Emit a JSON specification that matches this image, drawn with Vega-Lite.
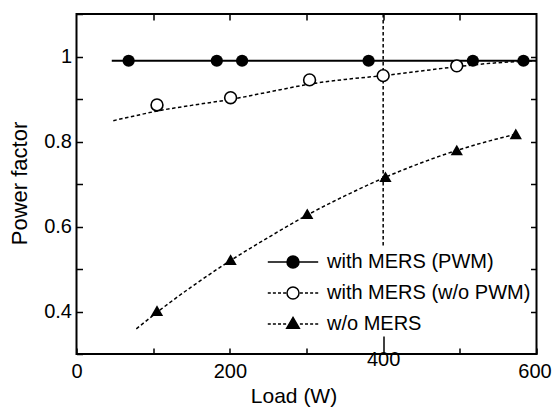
{
  "$schema": "https://vega.github.io/schema/vega-lite/v6.json",
  "width": 460,
  "height": 340,
  "autosize": "none",
  "padding": {"left": 76.5, "top": 14, "right": 15.5, "bottom": 54},
  "background": "white",
  "config": {
    "view": {"stroke": "black", "strokeWidth": 2},
    "font": "Liberation Sans",
    "axis": {"grid": false, "domain": false, "tickColor": "black", "tickWidth": 1.5, "labelColor": "black", "titleColor": "black", "labelFont": "Liberation Sans", "titleFont": "Liberation Sans", "titleFontWeight": "normal"}
  },
  "datasets": {
    "points": [
      {"series": "with MERS (PWM)", "load": 68, "pf": 0.99},
      {"series": "with MERS (PWM)", "load": 183, "pf": 0.99},
      {"series": "with MERS (PWM)", "load": 216, "pf": 0.99},
      {"series": "with MERS (PWM)", "load": 381, "pf": 0.99},
      {"series": "with MERS (PWM)", "load": 517, "pf": 0.99},
      {"series": "with MERS (PWM)", "load": 583, "pf": 0.99},
      {"series": "with MERS (w/o PWM)", "load": 105, "pf": 0.886},
      {"series": "with MERS (w/o PWM)", "load": 201, "pf": 0.903},
      {"series": "with MERS (w/o PWM)", "load": 304, "pf": 0.945},
      {"series": "with MERS (w/o PWM)", "load": 400, "pf": 0.955},
      {"series": "with MERS (w/o PWM)", "load": 496, "pf": 0.978},
      {"series": "w/o MERS", "load": 105, "pf": 0.402},
      {"series": "w/o MERS", "load": 201, "pf": 0.522},
      {"series": "w/o MERS", "load": 301, "pf": 0.63},
      {"series": "w/o MERS", "load": 403, "pf": 0.717},
      {"series": "w/o MERS", "load": 496, "pf": 0.78},
      {"series": "w/o MERS", "load": 573, "pf": 0.818}
    ],
    "fits": [
      {"series": "with MERS (PWM)", "load": 46, "pf": 0.99},
      {"series": "with MERS (PWM)", "load": 600, "pf": 0.99},
      {"series": "with MERS (w/o PWM)", "load": 48, "pf": 0.849},
      {"series": "with MERS (w/o PWM)", "load": 80, "pf": 0.862},
      {"series": "with MERS (w/o PWM)", "load": 109, "pf": 0.873},
      {"series": "with MERS (w/o PWM)", "load": 150, "pf": 0.885},
      {"series": "with MERS (w/o PWM)", "load": 201, "pf": 0.899},
      {"series": "with MERS (w/o PWM)", "load": 266, "pf": 0.922},
      {"series": "with MERS (w/o PWM)", "load": 304, "pf": 0.935},
      {"series": "with MERS (w/o PWM)", "load": 350, "pf": 0.946},
      {"series": "with MERS (w/o PWM)", "load": 400, "pf": 0.955},
      {"series": "with MERS (w/o PWM)", "load": 450, "pf": 0.966},
      {"series": "with MERS (w/o PWM)", "load": 496, "pf": 0.976},
      {"series": "with MERS (w/o PWM)", "load": 540, "pf": 0.984},
      {"series": "with MERS (w/o PWM)", "load": 600, "pf": 0.99},
      {"series": "w/o MERS", "load": 78, "pf": 0.359},
      {"series": "w/o MERS", "load": 105, "pf": 0.398},
      {"series": "w/o MERS", "load": 150, "pf": 0.458},
      {"series": "w/o MERS", "load": 201, "pf": 0.52},
      {"series": "w/o MERS", "load": 250, "pf": 0.574},
      {"series": "w/o MERS", "load": 300, "pf": 0.626},
      {"series": "w/o MERS", "load": 350, "pf": 0.672},
      {"series": "w/o MERS", "load": 403, "pf": 0.716},
      {"series": "w/o MERS", "load": 450, "pf": 0.75},
      {"series": "w/o MERS", "load": 496, "pf": 0.779},
      {"series": "w/o MERS", "load": 540, "pf": 0.802},
      {"series": "w/o MERS", "load": 575, "pf": 0.818}
    ],
    "marker": [
      {"load": 400, "pf": 1.1},
      {"load": 400, "pf": 0.55}
    ]
  },
  "resolve": {"axis": {"x": "independent", "y": "independent"}},
  "layer": [
    {
      "layer": [
        {
          "data": {"name": "fits"},
          "transform": [{"filter": "datum.series === 'with MERS (PWM)'"}],
          "mark": {"type": "line", "color": "black", "strokeWidth": 1.8},
          "encoding": {
            "x": {"field": "load", "type": "quantitative", "scale": {"domain": [0, 600], "nice": false},
              "axis": {"orient": "bottom", "title": "Load (W)", "values": [0, 100, 200, 300, 400, 500, 600],
                "labelExpr": "datum.value % 200 === 0 ? datum.label : ''",
                "tickSize": {"condition": {"test": "datum.value === 400", "value": -18}, "value": -6},
                "labelOffset": {"condition": {"test": "datum.value === 600", "value": -2}, "value": 0},
                "labelPadding": 13, "labelFontSize": 20, "labelFlush": false,
                "titleFontSize": 21, "titleX": 217, "titleY": 31, "titleBaseline": "top", "titleAlign": "center"}},
            "y": {"field": "pf", "type": "quantitative", "scale": {"domain": [0.3, 1.1], "nice": false, "zero": false},
              "axis": {"orient": "left", "title": "Power factor", "values": [0.3, 0.4, 0.5, 0.6, 0.7, 0.8, 0.9, 1.0, 1.1],
                "labelExpr": "(round(datum.value * 10) % 2 === 0 && datum.value > 0.35 && datum.value < 1.05) ? (datum.value === 1 ? '1' : format(datum.value, '.1f')) : ''",
                "tickSize": -6, "labelPadding": 11, "labelFontSize": 20, "labelFlush": false,
                "titleFontSize": 22, "titleX": -50, "titleY": 169, "titleBaseline": "alphabetic", "titleAlign": "center", "titleAngle": 270}}
          }
        },
        {
          "data": {"name": "fits"},
          "transform": [{"filter": "datum.series !== 'with MERS (PWM)'"}],
          "mark": {"type": "line", "color": "black", "strokeWidth": 1.5, "strokeDash": [3.5, 2.5], "interpolate": "monotone"},
          "encoding": {
            "x": {"field": "load", "type": "quantitative"},
            "y": {"field": "pf", "type": "quantitative"},
            "detail": {"field": "series", "type": "nominal"}
          }
        },
        {
          "data": {"name": "marker"},
          "mark": {"type": "line", "color": "black", "strokeWidth": 1.5, "strokeDash": [3.5, 2.5]},
          "encoding": {
            "x": {"field": "load", "type": "quantitative"},
            "y": {"field": "pf", "type": "quantitative"}
          }
        },
        {
          "data": {"name": "points"},
          "transform": [{"filter": "datum.series === 'with MERS (PWM)'"}],
          "mark": {"type": "point", "shape": "circle", "filled": true, "color": "black", "opacity": 1, "size": 150},
          "encoding": {
            "x": {"field": "load", "type": "quantitative"},
            "y": {"field": "pf", "type": "quantitative"}
          }
        },
        {
          "data": {"name": "points"},
          "transform": [{"filter": "datum.series === 'with MERS (w/o PWM)'"}],
          "mark": {"type": "point", "shape": "circle", "filled": true, "fill": "white", "stroke": "black", "strokeWidth": 1.6, "opacity": 1, "size": 140},
          "encoding": {
            "x": {"field": "load", "type": "quantitative"},
            "y": {"field": "pf", "type": "quantitative"}
          }
        },
        {
          "data": {"name": "points"},
          "transform": [{"filter": "datum.series === 'w/o MERS'"}],
          "mark": {"type": "point", "shape": "triangle-up", "filled": true, "color": "black", "opacity": 1, "size": 150},
          "encoding": {
            "x": {"field": "load", "type": "quantitative"},
            "y": {"field": "pf", "type": "quantitative"}
          }
        }
      ]
    },
    {
      "data": {"name": "points"},
      "transform": [{"filter": "false"}],
      "mark": {"type": "point", "filled": true, "stroke": "black", "strokeWidth": 1.5, "opacity": 1, "size": 144},
      "encoding": {
        "x": {"field": "load", "type": "quantitative",
          "axis": {"orient": "top", "title": null, "labels": false, "values": [100, 200, 300, 400, 500], "tickSize": -6}},
        "y": {"field": "pf", "type": "quantitative",
          "axis": {"orient": "right", "title": null, "labels": false, "values": [0.4, 0.5, 0.6, 0.7, 0.8, 0.9, 1.0], "tickSize": -6}},
        "shape": {"field": "series", "type": "nominal",
          "scale": {"domain": ["with MERS (PWM)", "with MERS (w/o PWM)", "w/o MERS"],
            "range": [
              "M-4.2,0H4.2M1,0A1,1,0,1,1,-1,0A1,1,0,1,1,1,0Z",
              "M-4.2,0H-3.7M-3.35,0H-2.85M-2.5,0H-2M-1.65,0H-1.15M1.15,0H1.65M2,0H2.5M2.85,0H3.35M3.7,0H4.2M1,0A1,1,0,1,1,-1,0A1,1,0,1,1,1,0Z",
              "M-4.2,0H-3.7M-3.35,0H-2.85M-2.5,0H-2M-1.65,0H-1.15M1.15,0H1.65M2,0H2.5M2.85,0H3.35M3.7,0H4.2M0,-1.1L1.05,0.7L-1.05,0.7Z"
            ]},
          "legend": {"title": null, "orient": "none", "legendX": 206.5, "legendY": 238, "labelFontSize": 20, "labelFont": "Liberation Sans", "labelColor": "black", "labelLimit": 0, "labelOffset": 24, "rowPadding": 11, "padding": 0, "symbolSize": 144,
            "encode": {"symbols": {"update": {"stroke": {"value": "black"}, "strokeWidth": {"value": 1.5}, "opacity": {"value": 1}}}}}},
        "fill": {"field": "series", "type": "nominal",
          "scale": {"domain": ["with MERS (PWM)", "with MERS (w/o PWM)", "w/o MERS"], "range": ["black", "white", "black"]},
          "legend": {"title": null, "orient": "none", "legendX": 206.5, "legendY": 238, "labelFontSize": 20, "labelFont": "Liberation Sans", "labelColor": "black", "labelLimit": 0, "labelOffset": 24, "rowPadding": 11, "padding": 0, "symbolSize": 144,
            "encode": {"symbols": {"update": {"stroke": {"value": "black"}, "strokeWidth": {"value": 1.5}, "opacity": {"value": 1}}}}}}
      }
    }
  ]
}
